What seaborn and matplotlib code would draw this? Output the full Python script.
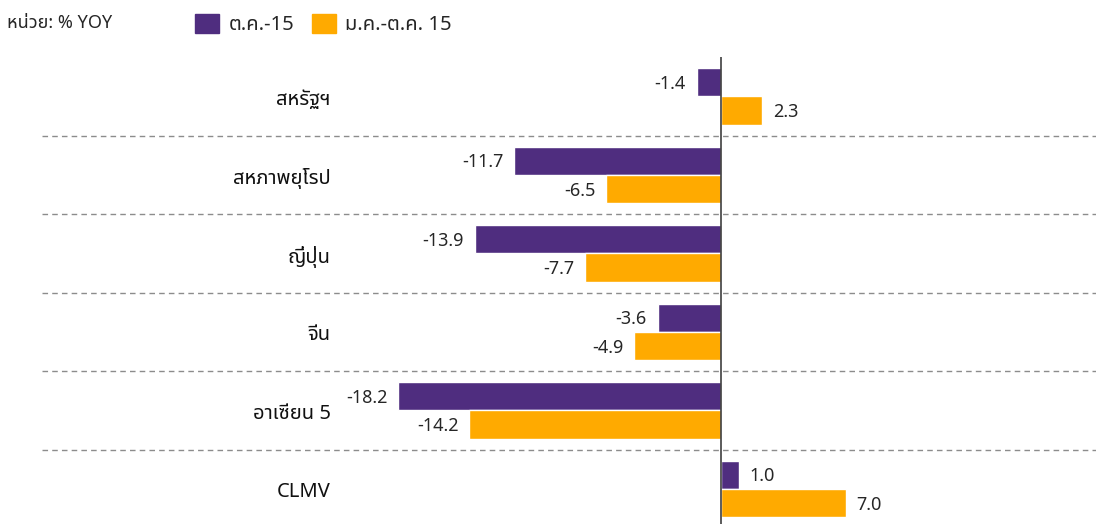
import numpy as np
import pandas as pd
import matplotlib
matplotlib.use('Agg')
import matplotlib.pyplot as plt
from matplotlib import font_manager
import seaborn as sns

# ข้อมูล (% YOY)
regions = ['สหรัฐฯ', 'สหภาพยุโรป', 'ญี่ปุ่น', 'จีน', 'อาเซียน 5', 'CLMV']
oct15 = [-1.4, -11.7, -13.9, -3.6, -18.2, 1.0]
jan_oct15 = [2.3, -6.5, -7.7, -4.9, -14.2, 7.0]
series_names = ['ต.ค.-15', 'ม.ค.-ต.ค. 15']
colors = ['#4F2D7F', '#FFAA00']

df = pd.DataFrame({'region': regions * 2,
                   'value': oct15 + jan_oct15,
                   'series': [series_names[0]] * 6 + [series_names[1]] * 6})

sns.set_theme(style='white')

# หาฟอนต์ที่มีอักษรไทย
installed = {f.name for f in font_manager.fontManager.ttflist}
thai_pref = ['Tahoma', 'Noto Sans Thai', 'Noto Sans Thai UI', 'Loma', 'Garuda',
             'Sarabun', 'TH Sarabun New', 'Norasi', 'Kinnari', 'Waree', 'Umpush',
             'Laksaman', 'Noto Serif Thai', 'Leelawadee UI']
thai_fonts = [f for f in thai_pref if f in installed]
thai_fonts += sorted(n for n in installed if 'thai' in n.lower() and n not in thai_fonts)
plt.rcParams['font.family'] = thai_fonts + ['DejaVu Sans']

fig = plt.figure(figsize=(10.96, 5.24), dpi=100)
ax = fig.add_axes([0.038, -0.008, 0.962, 0.899])

sns.barplot(data=df, y='region', x='value', hue='series', orient='h',
            palette=colors, width=0.72, gap=0, saturation=1, ax=ax,
            legend=False)

ax.set_xlim(-38.3, 21.1)
ax.set_ylim(len(regions) - 0.5, -0.5)

# ป้ายค่า
for cont in ax.containers:
    for bar in cont:
        w = bar.get_width()
        y = bar.get_y() + bar.get_height() / 2 + 0.02
        if w < 0:
            ax.text(w - 0.6, y, f'{w:.1f}', ha='right', va='center', fontsize=13)
        else:
            ax.text(w + 0.6, y, f'{w:.1f}', ha='left', va='center', fontsize=13)

# ชื่อภูมิภาค
for i, r in enumerate(regions):
    ax.text(-22.0, i + 0.04, r, ha='right', va='center', fontsize=14.5,
            fontweight='semibold', color='#111111')

# เส้นคั่น
for i in range(len(regions) - 1):
    ax.axhline(i + 0.5, color='#8C8C8C', lw=1.0, ls=(0, (4, 3)))
ax.axvline(0, color='#404040', lw=1.2)

ax.set_xticks([])
ax.set_yticks([])
ax.set_xlabel('')
ax.set_ylabel('')
for s in ax.spines.values():
    s.set_visible(False)

# legend และหน่วย
fig.text(0.006, 0.957, 'หน่วย: % YOY', fontsize=13, ha='left', va='center')
handles = [plt.Rectangle((0, 0), 1, 1, color=c) for c in colors]
fig.legend(handles, series_names, loc='center left', bbox_to_anchor=(0.178, 0.953),
           ncol=2, frameon=False, fontsize=14.5, handlelength=1.2, handleheight=1.05,
           columnspacing=0.9, handletextpad=0.45, borderaxespad=0, borderpad=0)

fig.savefig('out.png', dpi=100)
